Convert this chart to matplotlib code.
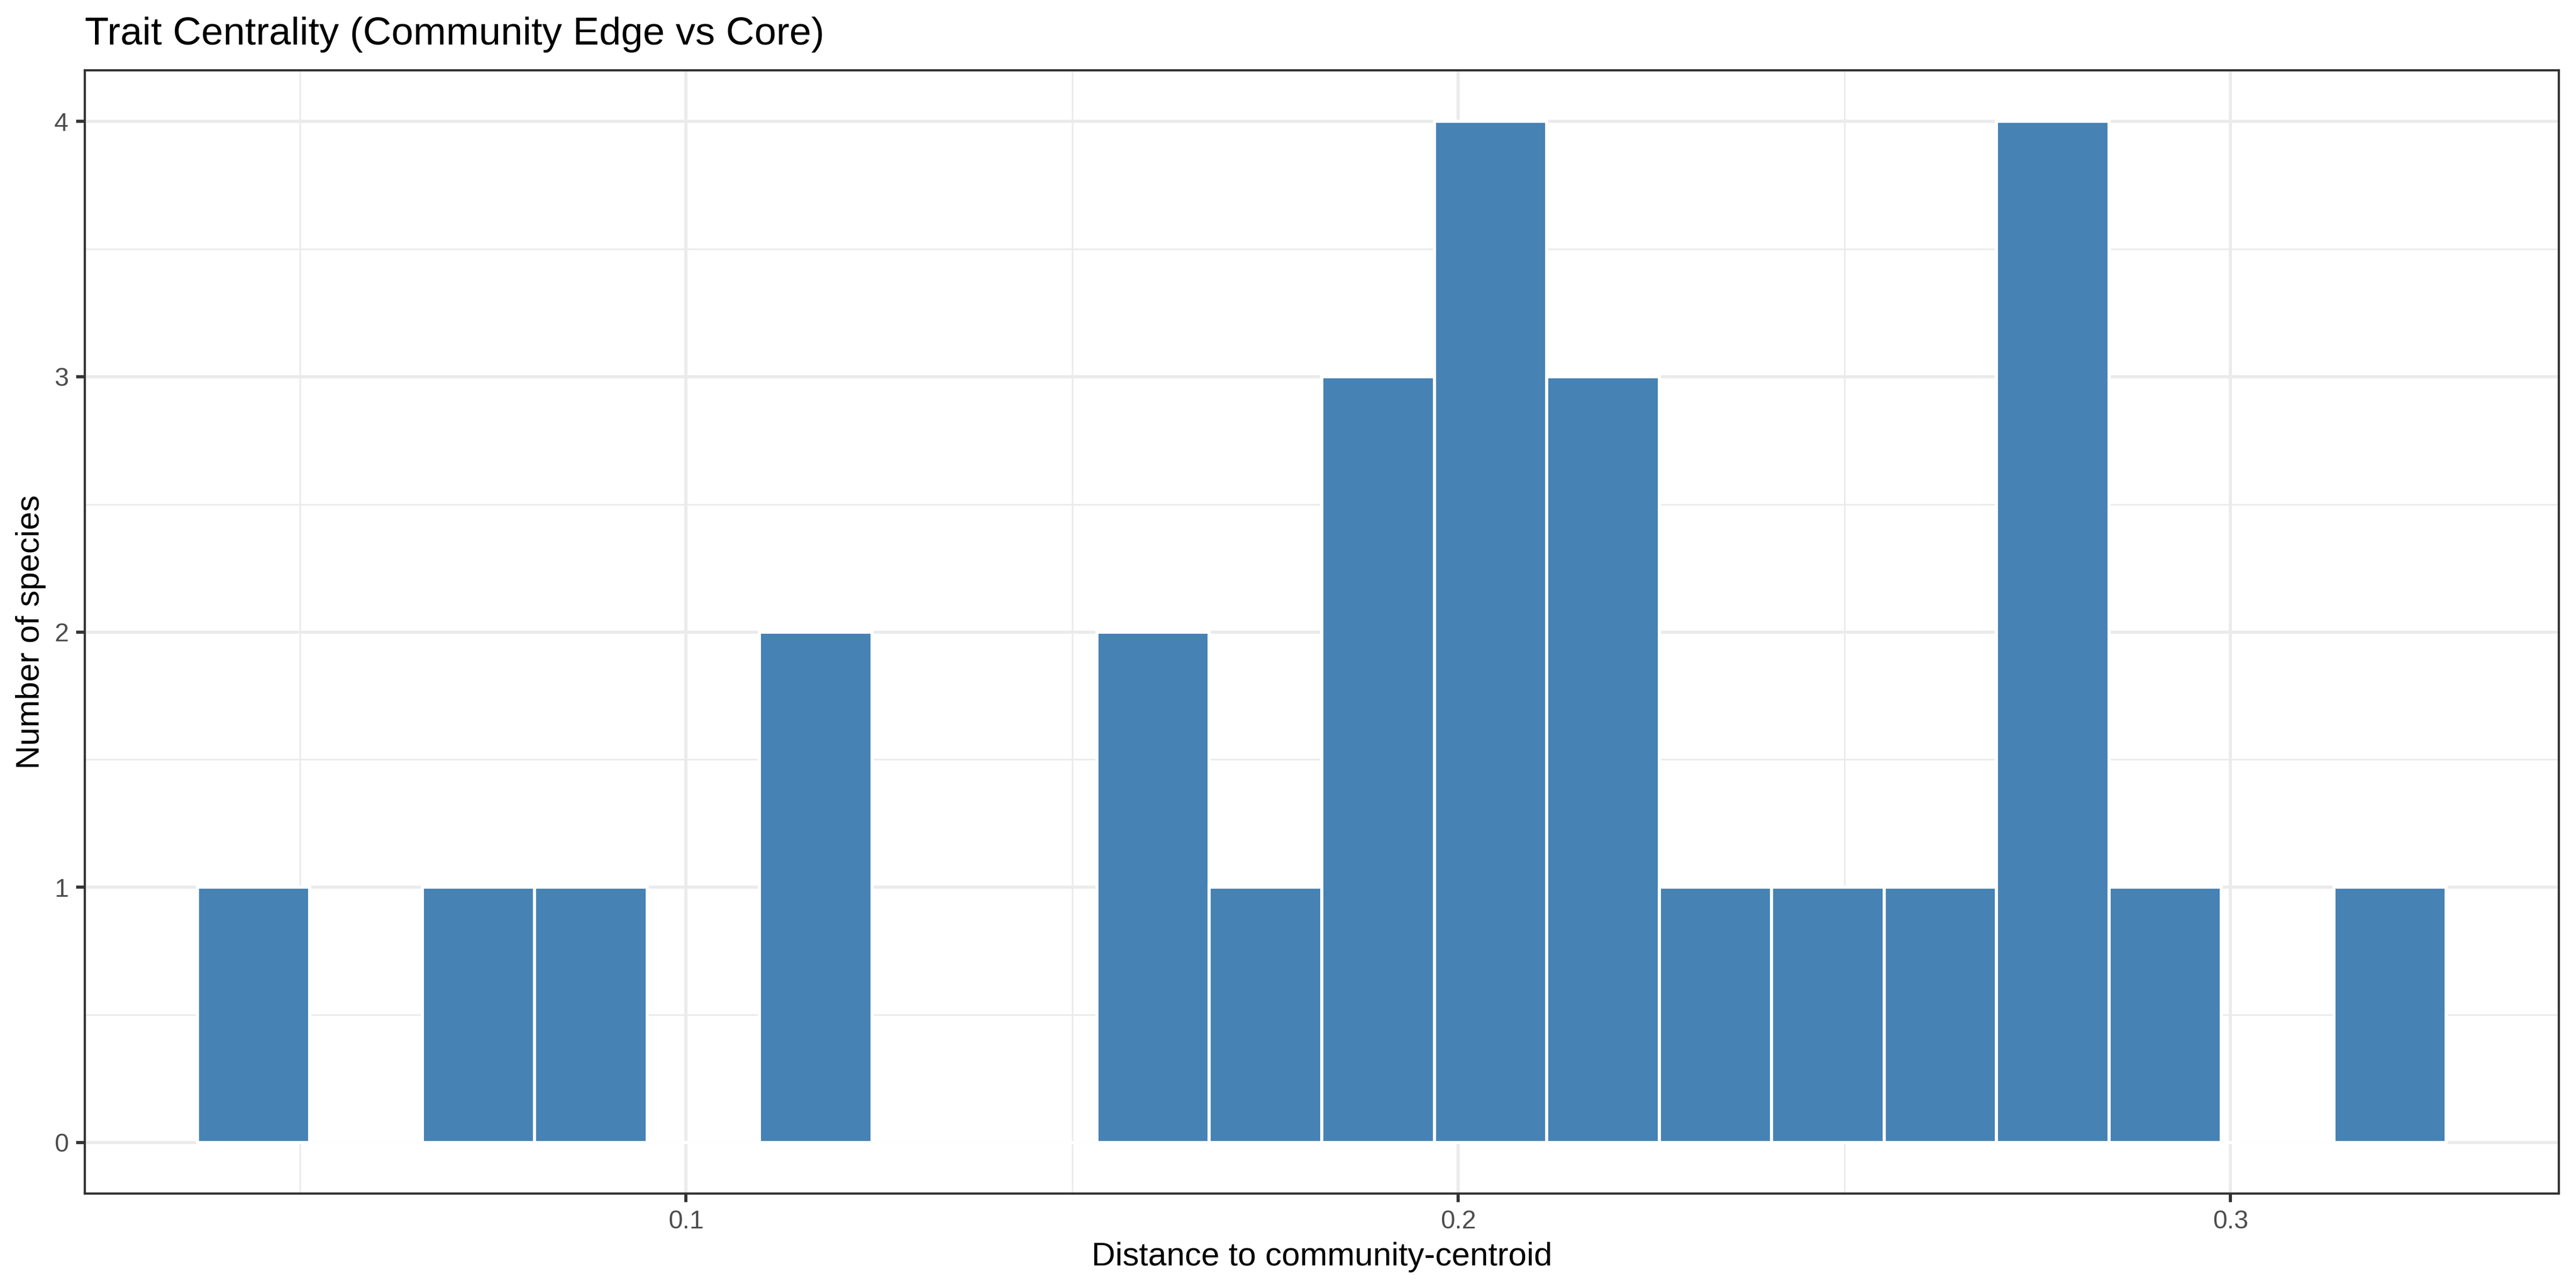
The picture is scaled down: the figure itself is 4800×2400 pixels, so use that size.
import matplotlib
matplotlib.use("Agg")
import matplotlib.pyplot as plt
from matplotlib.ticker import MultipleLocator, FixedLocator

plt.rcParams['font.family'] = ['Liberation Sans', 'DejaVu Sans']

# histogram of distances (20 bins)
bin_start = 0.03672
bin_width = 0.014562
counts = [1, 0, 1, 1, 0, 2, 0, 0, 2, 1, 3, 4, 3, 1, 1, 1, 4, 1, 0, 1]
x_ticks = [0.1, 0.2, 0.3]
x_tick_labels = ["0.1", "0.2", "0.3"]
y_ticks = [0, 1, 2, 3, 4]

title = "Trait Centrality (Community Edge vs Core)"
x_label = "Distance to community-centroid"
y_label = "Number of species"

W, H = 4800, 2400
fig = plt.figure(figsize=(16, 8), dpi=300)
ax = fig.add_axes([158 / W, 1 - 2224 / H, (4768 - 158) / W, (2224 - 131) / H])

lefts = [bin_start + i * bin_width for i in range(len(counts))]
ax.bar(lefts, counts, width=bin_width, align='edge', color='#4682B4',
       edgecolor='white', linewidth=1.4, zorder=3)

# ggplot-style 5% expansion
x_lo = bin_start
x_hi = bin_start + bin_width * len(counts)
pad = (x_hi - x_lo) * 0.05
ax.set_xlim(x_lo - pad, x_hi + pad)
ax.set_ylim(-0.05 * max(counts), max(counts) * 1.05)

ax.xaxis.set_major_locator(FixedLocator(x_ticks))
ax.set_xticklabels(x_tick_labels)
ax.xaxis.set_minor_locator(FixedLocator([0.05, 0.15, 0.25]))
ax.yaxis.set_major_locator(FixedLocator(y_ticks))
ax.yaxis.set_minor_locator(FixedLocator([0.5, 1.5, 2.5, 3.5]))

ax.grid(which='major', color='#EBEBEB', linewidth=1.4, zorder=0)
ax.grid(which='minor', color='#EBEBEB', linewidth=0.7, zorder=0)
ax.set_axisbelow(True)

for sp in ax.spines.values():
    sp.set_color('#333333')
    sp.set_linewidth(1.0)
    sp.set_zorder(5)

ax.tick_params(which='major', length=3.8, width=1.4, color='#333333',
               labelsize=11.5, labelcolor='#4D4D4D', pad=3.4)
ax.tick_params(which='minor', length=0)

fig.text(158 / W, 1 - 83 / H, title, fontsize=17.6, color='black',
         ha='left', va='baseline')
fig.text((158 + 4768) / 2 / W, 1 - 2358 / H, x_label, fontsize=14.7,
         color='black', ha='center', va='baseline')
fig.text(58 / W, 1 - (131 + 2224) / 2 / H, y_label, fontsize=14.7,
         color='black', ha='center', va='center', rotation=90)

fig.savefig("out.png", dpi=300, facecolor='white')
